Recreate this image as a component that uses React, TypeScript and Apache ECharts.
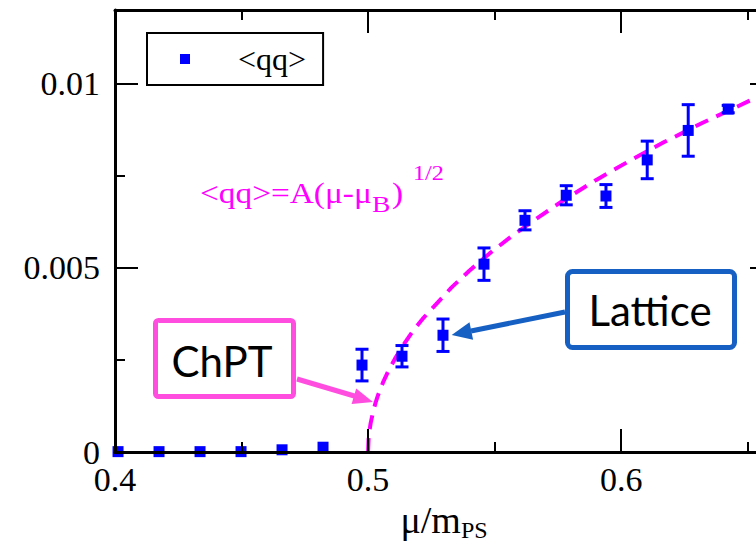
import React, { useEffect, useRef } from "react";
import * as echarts from "echarts";

// ---- data ----
const muOverMps = [0.4012, 0.4174, 0.4336, 0.4498, 0.466, 0.4822, 0.4976, 0.5134, 0.5296, 0.5458, 0.562, 0.5783, 0.594, 0.6103, 0.6265, 0.6423];
const qqValues = [0.00001, 0.00001, 0.00001, 0.00001, 0.00006, 0.00013, 0.00236, 0.0026, 0.00317, 0.0051, 0.00629, 0.00697, 0.00695, 0.00793, 0.00873, 0.00931];
const qqErrors = [0, 0, 0, 0, 0, 0, 0.00043, 0.00029, 0.00044, 0.00044, 0.00026, 0.00026, 0.00031, 0.00051, 0.0007, 0.0001];

// fit curve <qq> = A (mu - mu_B)^(1/2)
const fitX = [0.5, 0.5002, 0.5005, 0.501, 0.502, 0.503, 0.504, 0.506, 0.508, 0.511, 0.514, 0.518, 0.522, 0.527, 0.533, 0.54, 0.548, 0.557, 0.567, 0.578, 0.59, 0.603, 0.617, 0.632, 0.646, 0.66];
const fitY = [0, 0.000348, 0.00055, 0.000778, 0.0011, 0.001347, 0.001556, 0.001905, 0.0022, 0.00258, 0.00291, 0.003314, 0.003649, 0.004022, 0.004469, 0.00492, 0.005391, 0.005873, 0.006357, 0.006869, 0.00738, 0.007892, 0.008414, 0.008932, 0.009381, 0.00984];

const xTicksMajor = 0.1;
const xTicksMinor = 0.05;
const yTicksMajor = 0.005;
const yTicksMinor = 0.0025;

const SERIF = '"Liberation Serif", "Times New Roman", serif';
const SANS = 'Lato, "Open Sans", sans-serif';
const MAGENTA = "#ff00ff";
const PINK = "#ff4de0";
const BLUE_BOX = "#1660c4";

export default function App() {
  const ref = useRef<HTMLDivElement>(null);
  useEffect(() => {
    if (!ref.current) return;
    const chart = echarts.init(ref.current, undefined, { renderer: "svg" });

    const points = muOverMps.map((x, i) => [x, qqValues[i]]);
    const bars = muOverMps.map((x, i) => [x, qqValues[i], qqErrors[i]]);
    const fit = fitX.map((x, i) => [x, fitY[i]]);

    const xBase = {
      type: "value",
      min: 0.4,
      max: 0.66,
      gridIndex: 0,
      splitLine: { show: false },
      z: 10,
    };
    const yBase = {
      type: "value",
      min: 0,
      max: 0.012,
      gridIndex: 0,
      splitLine: { show: false },
      z: 10,
    };
    const lineOn = { show: true, onZero: false, lineStyle: { color: "#000", width: 3 } };
    const lineOff = { show: false, onZero: false };

    const option: any = {
      animation: false,
      grid: { left: 115, top: 10, width: 658, height: 442, containLabel: false, outerBoundsMode: "none" },
      legend: {
        data: ["<qq>"],
        left: 147,
        top: 33,
        padding: [10, 17, 10, 33],
        borderColor: "#000",
        borderWidth: 2,
        backgroundColor: "#fff",
        itemWidth: 10,
        itemHeight: 10,
        icon: "rect",
        selectedMode: false,
        textStyle: { fontFamily: SERIF, fontSize: 32, color: "#000", padding: [0, 0, 0, 43] },
      },
      xAxis: [
        {
          ...xBase,
          position: "bottom",
          interval: xTicksMajor,
          axisLine: lineOn,
          axisTick: { show: true, inside: true, length: 23, lineStyle: { color: "#000", width: 2 } },
          axisLabel: { show: true, margin: 10, fontFamily: SERIF, fontSize: 34, color: "#000", showMaxLabel: false },
          name: "{a|μ/m}{b|PS}",
          nameLocation: "middle",
          nameGap: 45,
          nameTextStyle: {
            rich: {
              a: { fontFamily: SERIF, fontSize: 38, lineHeight: 38, verticalAlign: "top", color: "#000" },
              b: { fontFamily: SERIF, fontSize: 24, lineHeight: 41, verticalAlign: "bottom", color: "#000" },
            },
          },
        },
        {
          ...xBase,
          position: "bottom",
          interval: xTicksMinor,
          axisLine: lineOff,
          axisTick: { show: true, inside: true, length: 10, lineStyle: { color: "#000", width: 2 } },
          axisLabel: { show: false },
        },
        {
          ...xBase,
          position: "top",
          interval: xTicksMajor,
          axisLine: lineOn,
          axisTick: { show: true, inside: true, length: 23, lineStyle: { color: "#000", width: 2 } },
          axisLabel: { show: false },
        },
        {
          ...xBase,
          position: "top",
          interval: xTicksMinor,
          axisLine: lineOff,
          axisTick: { show: true, inside: true, length: 10, lineStyle: { color: "#000", width: 2 } },
          axisLabel: { show: false },
        },
      ],
      yAxis: [
        {
          ...yBase,
          position: "left",
          interval: yTicksMajor,
          axisLine: lineOn,
          axisTick: { show: true, inside: true, length: 23, lineStyle: { color: "#000", width: 2 } },
          axisLabel: { show: true, margin: 15, fontFamily: SERIF, fontSize: 34, color: "#000", showMaxLabel: false },
        },
        {
          ...yBase,
          position: "left",
          interval: yTicksMinor,
          axisLine: lineOff,
          axisTick: { show: true, inside: true, length: 10, lineStyle: { color: "#000", width: 2 } },
          axisLabel: { show: false },
        },
        {
          ...yBase,
          position: "right",
          interval: yTicksMajor,
          axisLine: lineOn,
          axisTick: { show: true, inside: true, length: 23, lineStyle: { color: "#000", width: 2 } },
          axisLabel: { show: false },
        },
        {
          ...yBase,
          position: "right",
          interval: yTicksMinor,
          axisLine: lineOff,
          axisTick: { show: true, inside: true, length: 10, lineStyle: { color: "#000", width: 2 } },
          axisLabel: { show: false },
        },
      ],
      series: [
        {
          name: "fit",
          type: "line",
          xAxisIndex: 0,
          yAxisIndex: 0,
          data: fit,
          showSymbol: false,
          smooth: false,
          lineStyle: { color: MAGENTA, width: 4, type: [14, 9] },
          z: 3,
          silent: true,
        },
        {
          name: "err",
          type: "custom",
          xAxisIndex: 0,
          yAxisIndex: 0,
          data: bars,
          clip: false,
          z: 4,
          renderItem: (params: any, api: any) => {
            const x = api.value(0);
            const y = api.value(1);
            const e = api.value(2);
            if (!e) return { type: "group", children: [] };
            const top = api.coord([x, y + e]);
            const bot = api.coord([x, y - e]);
            const hw = 6.5;
            const st = { stroke: "#0000ff", lineWidth: 3 };
            return {
              type: "group",
              children: [
                { type: "line", shape: { x1: top[0], y1: top[1], x2: bot[0], y2: bot[1] }, style: st },
                { type: "line", shape: { x1: top[0] - hw, y1: top[1], x2: top[0] + hw, y2: top[1] }, style: st },
                { type: "line", shape: { x1: bot[0] - hw, y1: bot[1], x2: bot[0] + hw, y2: bot[1] }, style: st },
              ],
            };
          },
        },
        {
          name: "<qq>",
          type: "scatter",
          xAxisIndex: 0,
          yAxisIndex: 0,
          data: points,
          symbol: "rect",
          symbolSize: 11,
          itemStyle: { color: "#0000ff", opacity: 1 },
          z: 5,
        },
      ],
      graphic: [
        // fit formula
        { type: "text", x: 200, y: 193, scaleX: 1.15, z: 20, style: { text: "<qq>=A(μ-μ", font: `29px ${SERIF}`, fill: MAGENTA, align: "left", verticalAlign: "middle" } },
        { type: "text", x: 372, y: 204, scaleX: 1.15, z: 20, style: { text: "B", font: `24px ${SERIF}`, fill: MAGENTA, align: "left", verticalAlign: "middle" } },
        { type: "text", x: 392, y: 193, scaleX: 1.15, z: 20, style: { text: ")", font: `29px ${SERIF}`, fill: MAGENTA, align: "left", verticalAlign: "middle" } },
        { type: "text", x: 413, y: 172, scaleX: 1.1, z: 20, style: { text: "1/2", font: `22px ${SERIF}`, fill: MAGENTA, align: "left", verticalAlign: "middle" } },
        // ChPT annotation
        { type: "line", z: 20, shape: { x1: 297, y1: 379, x2: 356, y2: 396.5 }, style: { stroke: PINK, lineWidth: 5 } },
        { type: "polygon", z: 20, shape: { points: [[373, 402], [351.6, 403.9], [356.2, 388.5]] }, style: { fill: PINK } },
        { type: "rect", z: 20, shape: { x: 155.5, y: 320.5, width: 138, height: 76, r: 3 }, style: { fill: "#fff", stroke: PINK, lineWidth: 5 } },
        { type: "text", x: 222, y: 361, z: 21, style: { text: "ChPT", font: `42px ${SANS}`, fill: "#000", align: "center", verticalAlign: "middle" } },
        // Lattice annotation
        { type: "line", z: 20, shape: { x1: 565, y1: 312, x2: 471, y2: 331 }, style: { stroke: BLUE_BOX, lineWidth: 5 } },
        { type: "polygon", z: 20, shape: { points: [[451.7, 335], [469.5, 322.2], [473.1, 339.8]] }, style: { fill: BLUE_BOX } },
        { type: "rect", z: 20, shape: { x: 567.5, y: 271.5, width: 167, height: 76, r: 5 }, style: { fill: "#fff", stroke: BLUE_BOX, lineWidth: 5 } },
        { type: "text", x: 650, y: 310, z: 21, style: { text: "Lattice", font: `42px ${SANS}`, fill: "#000", align: "center", verticalAlign: "middle" } },
      ],
    };
    chart.setOption(option);
    return () => chart.dispose();
  }, []);
  return (
    <div
      ref={ref}
      style={{ position: "absolute", left: 0, top: 0, width: 756, height: 542, background: "#fff" }}
    />
  );
}
